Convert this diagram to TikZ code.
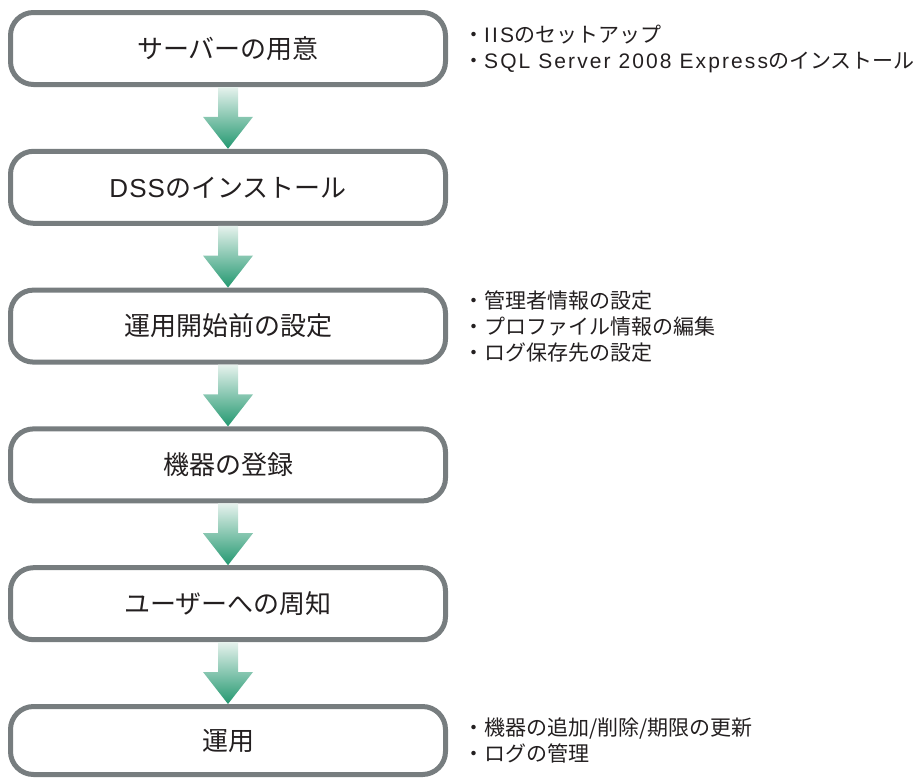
\documentclass[tikz,border=0pt]{standalone}
\usepackage{fontspec}
\setmainfont{Noto Sans CJK JP}
\newfontfamily\latinfont[LetterSpace=10]{Liberation Sans}
\newfontfamily\boxlatinfont[LetterSpace=4]{Liberation Sans}
\usetikzlibrary{positioning,calc}

\definecolor{boxgray}{HTML}{777D7F}
\definecolor{arrowtop}{HTML}{E6F2ED}
\definecolor{arrowbot}{HTML}{239870}
\definecolor{inkblack}{HTML}{231F20}

\tikzset{
  stage/.style={draw=boxgray, line width=5pt, rounded corners=23pt,
    minimum width=435pt, minimum height=72pt, outer sep=2.5pt,
    text=inkblack, font=\fontsize{26}{30}\selectfont},
  notes/.style={align=left, inner sep=0pt, text=inkblack,
    font=\fontsize{21}{26}\selectfont}
}

% shaded block arrow from one box to the next
\newcommand\flowarrow[2]{%
  \shade[top color=arrowtop, bottom color=arrowbot]
    ($(#1.south)+(-10,0)$) -- ($(#2.north)+(-10,32)$) -- ($(#2.north)+(-25,32)$)
    -- (#2.north) -- ($(#2.north)+(25,32)$) -- ($(#2.north)+(10,32)$)
    -- ($(#1.south)+(10,0)$) -- cycle;%
}

\begin{document}
\begin{tikzpicture}[x=1pt, y=1pt, node distance=61.8pt]
  \useasboundingbox (0,0) rectangle (921,-777);

  \node[stage] (server) at (228,-48.5) {サーバーの用意};
  \node[stage, below=of server] (dss) {{\boxlatinfont DSS}のインストール};
  \node[stage, below=of dss] (setup) {運用開始前の設定};
  \node[stage, below=of setup] (device) {機器の登録};
  \node[stage, below=of device] (notify) {ユーザーへの周知};
  \node[stage, below=of notify, minimum height=68pt] (operate) {運用};

  \foreach \a/\b in {server/dss, dss/setup, setup/device, device/notify, notify/operate}
    {\flowarrow{\a}{\b}}

  \node[notes, right=15pt of server] (servernotes)
    {・{\latinfont IIS}のセットアップ\\・{\latinfont SQL Server 2008 Express}のインストール};
  \node[notes, right=15pt of setup] (setupnotes)
    {・管理者情報の設定\\・プロファイル情報の編集\\・ログ保存先の設定};
  \node[notes, right=15pt of operate] (operatenotes)
    {・機器の追加/削除/期限の更新\\・ログの管理};
\end{tikzpicture}
\end{document}
